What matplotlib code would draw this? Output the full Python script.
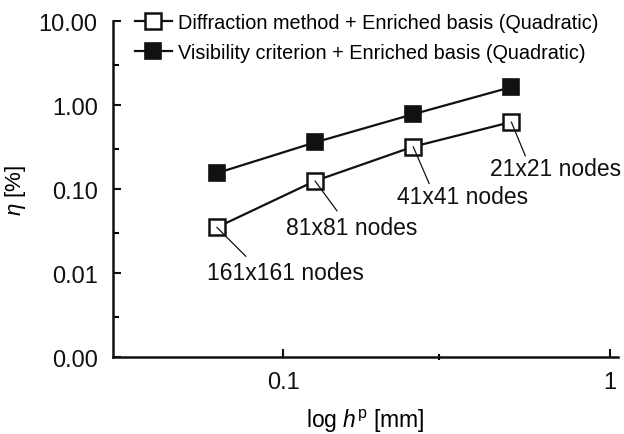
import matplotlib
matplotlib.use("Agg")
import matplotlib.pyplot as plt
from matplotlib.ticker import FixedLocator, FuncFormatter, NullFormatter

plt.rcParams["font.family"] = ["Liberation Sans", "DejaVu Sans"]
plt.rcParams["mathtext.fontset"] = "custom"
plt.rcParams["mathtext.it"] = "Liberation Sans:italic"
plt.rcParams["mathtext.rm"] = "Liberation Sans"

# grid spacing h^p [mm] and relative error eta [%]
h = [0.0625, 0.125, 0.25, 0.5]
node_labels = ["161x161 nodes", "81x81 nodes", "41x41 nodes", "21x21 nodes"]
eta_diffraction = [0.035, 0.125, 0.32, 0.63]
eta_visibility = [0.155, 0.36, 0.78, 1.64]

series_names = [
    "Diffraction method + Enriched basis (Quadratic)",
    "Visibility criterion + Enriched basis (Quadratic)",
]

fig = plt.figure(figsize=(6.24, 4.35), dpi=100)
ax = fig.add_axes([0.181, 0.177, 0.809, 0.772])

ax.plot(h, eta_diffraction, "-s", color="#111111", lw=1.6, ms=11,
        mfc="white", mec="#111111", mew=1.8, label=series_names[0], zorder=3)
ax.plot(h, eta_visibility, "-s", color="#111111", lw=1.6, ms=11,
        mfc="#111111", mec="#111111", mew=1.2, label=series_names[1], zorder=3)

ax.set_xscale("log")
ax.set_yscale("log")
ax.set_xlim(0.03, 1.06)
ax.set_ylim(0.001, 10)

ax.yaxis.set_major_locator(FixedLocator([0.001, 0.01, 0.1, 1, 10]))
ax.yaxis.set_minor_locator(FixedLocator([0.003, 0.03, 0.3, 3]))
ax.yaxis.set_major_formatter(FuncFormatter(lambda v, _: f"{v:.2f}"))
ax.yaxis.set_minor_formatter(NullFormatter())
ax.xaxis.set_major_locator(FixedLocator([0.1, 1]))
ax.xaxis.set_minor_locator(FixedLocator([0.3]))
ax.xaxis.set_major_formatter(FuncFormatter(lambda v, _: f"{v:g}"))
ax.xaxis.set_minor_formatter(NullFormatter())

ax.tick_params(which="major", direction="in", length=6, width=1.5,
               labelsize=17, colors="#111111")
ax.tick_params(axis="y", which="major", pad=11)
ax.tick_params(axis="y", which="minor", direction="in", length=4, width=1.5)
ax.tick_params(axis="x", which="minor", direction="inout", length=5, width=1.5)
ax.tick_params(axis="x", which="major", pad=10)

for side in ("top", "right"):
    ax.spines[side].set_visible(False)
for side in ("left", "bottom"):
    ax.spines[side].set_linewidth(1.8)
    ax.spines[side].set_color("#111111")

ax.set_xlabel(r"log $h^{\rm p}$ [mm]", fontsize=16.5, labelpad=10)
ax.set_ylabel(r"$\eta$ [%]", fontsize=16, labelpad=8)

# node-count annotations on the diffraction series (offsets in pixels)
leader_ends = [(29, -29), (22, -30), (16, -37), (14, -34)]
text_pos = [(-10, -45), (-29, -47), (-16, -50), (-21, -47)]
for xi, yi, lab, (dx, dy), (tx, ty) in zip(h, eta_diffraction, node_labels,
                                           leader_ends, text_pos):
    ax.annotate("", xy=(xi, yi), xytext=(dx, dy), textcoords="offset pixels",
                arrowprops=dict(arrowstyle="-", color="#111111", lw=0.9,
                                shrinkA=0, shrinkB=0))
    ax.annotate(lab, xy=(xi, yi), xytext=(tx, ty), textcoords="offset pixels",
                fontsize=16.5, color="#111111", ha="left", va="center")

fig.legend(loc="upper left", bbox_to_anchor=(135 / 624, 1 - 14 / 435),
           frameon=False, fontsize=14.3, handlelength=1.86, handletextpad=0.3,
           labelspacing=0.55, borderpad=0, borderaxespad=0)

plt.savefig("out.png", dpi=100)
